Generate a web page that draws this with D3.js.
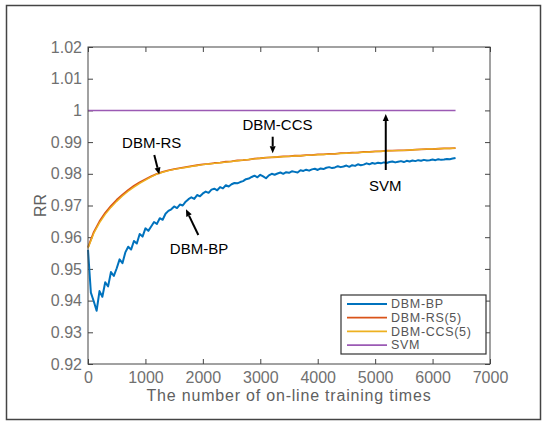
<!DOCTYPE html>
<html>
<head>
<meta charset="utf-8">
<script src="https://cdn.jsdelivr.net/npm/d3@7"></script>
<style>
  body { margin: 0; background: #fff; }
  text { font-family: "Liberation Sans", Arial, sans-serif; }
</style>
</head>
<body>
<div id="chart"></div>
<script>
// x ticks and y ticks
const xTicks = [0, 1000, 2000, 3000, 4000, 5000, 6000, 7000];
const yTicks = [0.92, 0.93, 0.94, 0.95, 0.96, 0.97, 0.98, 0.99, 1.0, 1.01, 1.02];

// DBM-BP, sampled every 50 training times (0..6400)
const bpStep = 50;
const bpValues = [
  0.9560, 0.9425, 0.9398, 0.9368, 0.9430, 0.9412, 0.9458, 0.9445, 0.9490, 0.9478,
  0.9502, 0.9530, 0.9518, 0.9552, 0.9570, 0.9561, 0.9588, 0.9580, 0.9610, 0.9602,
  0.9628, 0.9620, 0.9634, 0.9648, 0.9642, 0.9660, 0.9655, 0.9674, 0.9683, 0.9688,
  0.9697, 0.9692, 0.9703, 0.9700, 0.9712, 0.9720, 0.9726, 0.9721, 0.9733, 0.9729,
  0.9738, 0.9744, 0.9740, 0.9750, 0.9753, 0.9748, 0.9758, 0.9754, 0.9764, 0.9760,
  0.9767, 0.9771, 0.9770, 0.9774, 0.9777, 0.9783, 0.9785, 0.9790, 0.9794, 0.9789,
  0.9797, 0.9792, 0.9786, 0.9795, 0.9800, 0.9797, 0.9801, 0.9804, 0.9800, 0.9805,
  0.9803, 0.9808, 0.9806, 0.9804, 0.9811, 0.9809, 0.9813, 0.9810, 0.9814, 0.9816,
  0.9812, 0.9817, 0.9815, 0.9819, 0.9821, 0.9818, 0.9820, 0.9824, 0.9821, 0.9823,
  0.9826, 0.9822, 0.9827, 0.9825, 0.9830, 0.9827, 0.9829, 0.9833, 0.9830, 0.9834,
  0.9832, 0.9835, 0.9833, 0.9836, 0.9834, 0.9837, 0.9839, 0.9836, 0.9838, 0.9840,
  0.9837, 0.9841, 0.9839, 0.9842, 0.9840, 0.9843, 0.9841, 0.9844, 0.9842, 0.9843,
  0.9845, 0.9843, 0.9846, 0.9844, 0.9845, 0.9847, 0.9846, 0.9848, 0.9850
];

// DBM-RS(5) and DBM-CCS(5), sampled every 100 (0..6400)
const smoothStep = 100;
const rsValues = [
  0.9568, 0.9616, 0.9650, 0.9677, 0.9699, 0.9718, 0.9734, 0.9749, 0.9762, 0.9773,
  0.9783, 0.9792, 0.9800, 0.9806, 0.9811, 0.9815, 0.9818, 0.9821, 0.9824, 0.9827,
  0.9830, 0.9831, 0.9834, 0.9835, 0.9838, 0.9839, 0.9842, 0.9843, 0.9845, 0.9848,
  0.9849, 0.9851, 0.9852, 0.9853, 0.9855, 0.9855, 0.9857, 0.9857, 0.9859, 0.9859,
  0.9861, 0.9861, 0.9863, 0.9863, 0.9865, 0.9865, 0.9867, 0.9867, 0.9869, 0.9869,
  0.9871, 0.9871, 0.9873, 0.9873, 0.9874, 0.9874, 0.9875, 0.9876, 0.9877, 0.9878,
  0.9878, 0.9879, 0.9880, 0.9880, 0.9881
];
const ccsValues = [
  0.9565, 0.9612, 0.9645, 0.9672, 0.9694, 0.9713, 0.9730, 0.9745, 0.9758, 0.9770,
  0.9780, 0.9790, 0.9799, 0.9805, 0.9810, 0.9814, 0.9817, 0.9820, 0.9823, 0.9826,
  0.9829, 0.9831, 0.9833, 0.9835, 0.9837, 0.9839, 0.9841, 0.9843, 0.9845, 0.9847,
  0.9849, 0.9851, 0.9852, 0.9853, 0.9854, 0.9855, 0.9856, 0.9857, 0.9858, 0.9859,
  0.9860, 0.9861, 0.9862, 0.9863, 0.9864, 0.9865, 0.9866, 0.9867, 0.9868, 0.9869,
  0.9870, 0.9871, 0.9872, 0.9873, 0.9873, 0.9874, 0.9875, 0.9876, 0.9877, 0.9878,
  0.9878, 0.9879, 0.9880, 0.9880, 0.9881
];

// SVM is flat at 1
const svmX = [0, 6400];
const svmValues = [1.0, 1.0];

const seriesNames = ['DBM-BP', 'DBM-RS(5)', 'DBM-CCS(5)', 'SVM'];
const seriesColors = ['#0072BD', '#D95319', '#EDB120', '#9B5AB4'];

// annotations: label position and arrow tail -> head, in data units
const annotations = [
  { text: 'DBM-RS',  tx: 1109, ty: 0.9898, from: [1154, 0.9859], to: [1241, 0.9798] },
  { text: 'DBM-CCS', tx: 3300, ty: 0.9954, from: [3216, 0.9917], to: [3216, 0.9865] },
  { text: 'DBM-BP',  tx: 1933, ty: 0.9565, from: [1921, 0.9607], to: [1706, 0.9688] },
  { text: 'SVM',     tx: 5177, ty: 0.9763, from: [5185, 0.9812], to: [5185, 0.9989] },
];

const width = 548, height = 421;
const margin = { top: 47, right: 58, bottom: 57, left: 88 };

const svg = d3.select('#chart')
  .append('svg')
  .attr('width', width)
  .attr('height', height);

svg.append('rect')
  .attr('width', width).attr('height', height)
  .attr('fill', '#fff');

// outer frame
svg.append('rect')
  .attr('x', 6.5).attr('y', 5.5)
  .attr('width', 534).attr('height', 414)
  .attr('fill', 'none')
  .attr('stroke', '#444')
  .attr('stroke-width', 1.5);

const x = d3.scaleLinear().domain([0, 7000]).range([margin.left, width - margin.right]);
const y = d3.scaleLinear().domain([0.92, 1.02]).range([height - margin.bottom, margin.top]);

const fmt = d => String(+d.toFixed(2));

function styleAxis(sel) {
  sel.select('.domain').remove();
  sel.selectAll('.tick line').attr('stroke', '#444');
  sel.selectAll('.tick text')
    .attr('fill', '#707070')
    .attr('font-size', '16px')
    .attr('font-family', '"Liberation Sans", Arial, sans-serif');
}

svg.append('g')
  .attr('transform', `translate(0,${y.range()[0]})`)
  .call(d3.axisBottom(x).tickValues(xTicks).tickSize(-5).tickPadding(8).tickFormat(d3.format('d')))
  .call(styleAxis);

svg.append('g')
  .attr('transform', `translate(0,${y.range()[1]})`)
  .call(d3.axisTop(x).tickValues(xTicks).tickSize(-5).tickFormat(''))
  .call(styleAxis);

svg.append('g')
  .attr('transform', `translate(${x.range()[0]},0)`)
  .call(d3.axisLeft(y).tickValues(yTicks).tickSize(-5).tickPadding(6).tickFormat(fmt))
  .call(styleAxis);

svg.append('g')
  .attr('transform', `translate(${x.range()[1]},0)`)
  .call(d3.axisRight(y).tickValues(yTicks).tickSize(-5).tickFormat(''))
  .call(styleAxis);

// series
const bpData = bpValues.map((v, i) => [i * bpStep, v]);
const rsData = rsValues.map((v, i) => [i * smoothStep, v]);
const ccsData = ccsValues.map((v, i) => [i * smoothStep, v]);
const svmData = svmValues.map((v, i) => [svmX[i], v]);

const line = d3.line().x(d => x(d[0])).y(d => y(d[1]));

const lines = [
  { data: svmData, color: seriesColors[3], w: 1.5 },
  { data: bpData, color: seriesColors[0], w: 2.0 },
  { data: rsData, color: seriesColors[1], w: 1.8 },
  { data: ccsData, color: seriesColors[2], w: 1.4 },
];

svg.append('g')
  .selectAll('path')
  .data(lines)
  .join('path')
  .attr('d', d => line(d.data))
  .attr('fill', 'none')
  .attr('stroke', d => d.color)
  .attr('stroke-width', d => d.w)
  .attr('stroke-linejoin', 'round');

// plot box
svg.append('rect')
  .attr('x', x.range()[0]).attr('y', y.range()[1])
  .attr('width', x.range()[1] - x.range()[0])
  .attr('height', y.range()[0] - y.range()[1])
  .attr('fill', 'none')
  .attr('stroke', '#444')
  .attr('stroke-width', 1);

// annotations
const ann = svg.append('g');
annotations.forEach(a => {
  const x1 = x(a.from[0]), y1 = y(a.from[1]);
  const x2 = x(a.to[0]), y2 = y(a.to[1]);
  const ang = Math.atan2(y2 - y1, x2 - x1);
  const hl = 7, hw = 3;
  const bx = x2 - hl * Math.cos(ang), by = y2 - hl * Math.sin(ang);
  ann.append('line')
    .attr('x1', x1).attr('y1', y1).attr('x2', bx).attr('y2', by)
    .attr('stroke', '#000').attr('stroke-width', 2);
  ann.append('path')
    .attr('d', `M${x2},${y2}L${bx - hw * Math.sin(ang)},${by + hw * Math.cos(ang)}L${bx + hw * Math.sin(ang)},${by - hw * Math.cos(ang)}Z`)
    .attr('fill', '#000');
  ann.append('text')
    .attr('x', x(a.tx)).attr('y', y(a.ty))
    .attr('dy', '0.35em')
    .attr('text-anchor', 'middle')
    .attr('font-size', '15px')
    .attr('fill', '#000')
    .text(a.text);
});

// axis titles
svg.append('text')
  .attr('x', (x.range()[0] + x.range()[1]) / 2)
  .attr('y', 395)
  .attr('dy', '0.35em')
  .attr('text-anchor', 'middle')
  .attr('font-size', '16px')
  .attr('letter-spacing', '0.8px')
  .attr('fill', '#606060')
  .text('The number of on-line training times');

svg.append('text')
  .attr('transform', `translate(40,${(y.range()[0] + y.range()[1]) / 2}) rotate(-90)`)
  .attr('dy', '0.35em')
  .attr('text-anchor', 'middle')
  .attr('font-size', '16px')
  .attr('fill', '#606060')
  .text('RR');

// legend
const legend = svg.append('g').attr('transform', 'translate(341,295)');
legend.append('rect')
  .attr('width', 145).attr('height', 59)
  .attr('fill', '#fff')
  .attr('stroke', '#333')
  .attr('stroke-width', 1.2);

const items = legend.selectAll('g.item')
  .data(seriesNames)
  .join('g')
  .attr('class', 'item')
  .attr('transform', (d, i) => `translate(0,${9 + i * 13.7})`);

items.append('line')
  .attr('x1', 6).attr('x2', 46)
  .attr('stroke', (d, i) => seriesColors[i])
  .attr('stroke-width', 1.8);

items.append('text')
  .attr('x', 50)
  .attr('dy', '0.35em')
  .attr('font-size', '12.5px')
  .attr('letter-spacing', '0.7px')
  .attr('fill', '#555')
  .text(d => d);
</script>
</body>
</html>
